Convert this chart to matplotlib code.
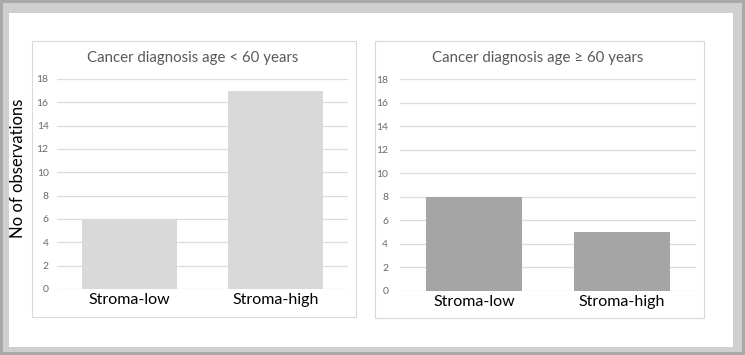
import matplotlib
matplotlib.use("Agg")
import matplotlib.pyplot as plt
from matplotlib.patches import Rectangle

plt.rcParams['font.family'] = ['Lato', 'DejaVu Sans']

# data
categories = ["Stroma-low", "Stroma-high"]
young_counts = [6, 17]
old_counts = [8, 5]
titles = ["Cancer diagnosis age < 60 years", "Cancer diagnosis age \u2265 60 years"]
yticks = list(range(0, 20, 2))

W, H = 745, 355


def fx(px):
    return px / W


def fy(py):
    return 1 - py / H


fig = plt.figure(figsize=(7.45, 3.55), dpi=100)
fig.patch.set_facecolor("#a9a9a9")

# outer frame bands
fig.patches.append(Rectangle((fx(3), fy(352)), fx(739), 349 / H,
                             transform=fig.transFigure, facecolor="#cfcfcf",
                             edgecolor="none", zorder=-3))
fig.patches.append(Rectangle((fx(9), fy(347)), fx(724), 334 / H,
                             transform=fig.transFigure, facecolor="white",
                             edgecolor="none", zorder=-2))

# panel boxes
for (x0, y0, x1, y1) in [(32, 41, 356, 317), (375, 41, 704, 318)]:
    fig.patches.append(Rectangle((fx(x0), fy(y1)), fx(x1 - x0), (y1 - y0) / H,
                                 transform=fig.transFigure, facecolor="white",
                                 edgecolor="#d9d9d9", linewidth=0.8, zorder=-1))


def draw_panel(rect, values, color, width, ypad, title, title_x):
    x0, ytop, x1, ybot = rect
    ax = fig.add_axes([fx(x0), fy(ybot), fx(x1 - x0), (ybot - ytop) / H])
    ax.set_facecolor("none")
    ax.bar(range(len(categories)), values, width=width, color=color, zorder=2)
    ax.set_xlim(-0.5, 1.5)
    ax.set_ylim(0, 18)
    ax.set_yticks(yticks)
    ax.set_xticks(range(len(categories)))
    ax.set_xticklabels(categories, fontsize=11.5, color="black")
    ax.yaxis.grid(True, color="#dcdcdc", linewidth=0.9, zorder=0)
    ax.set_axisbelow(True)
    for s in ax.spines.values():
        s.set_visible(False)
    ax.tick_params(axis="y", length=0, pad=ypad, labelsize=7.5, labelcolor="#6a6a6a")
    ax.tick_params(axis="x", length=0, pad=3)
    fig.text(fx(title_x), fy(58), title, ha="center", va="center",
             fontsize=10.8, color="#595959")
    return ax


draw_panel((57, 79, 348, 289), young_counts, "#d9d9d9", 0.65, 6, titles[0], 193)
draw_panel((400, 79, 696, 291), old_counts, "#a5a5a5", 0.655, 8.5, titles[1], 538)

fig.text(fx(18), fy(168), "No of observations", rotation=90, ha="center",
         va="center", fontsize=12, color="black")

fig.savefig("out.png", dpi=100, facecolor=fig.get_facecolor())
